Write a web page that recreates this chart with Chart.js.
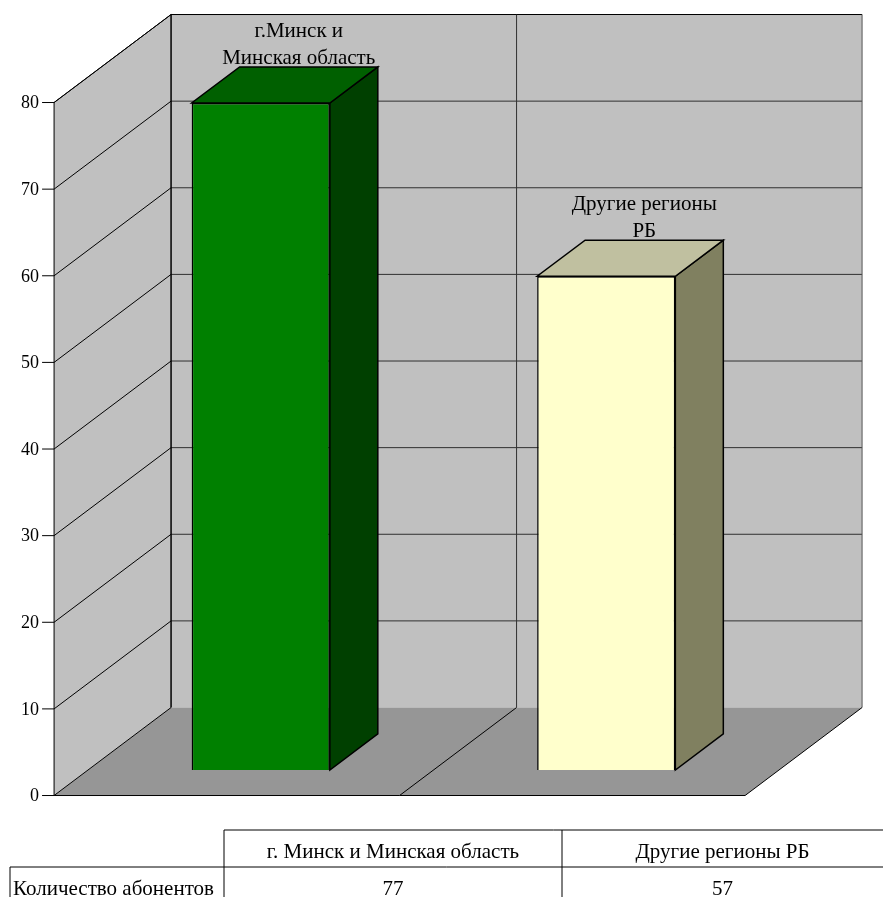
<!DOCTYPE html>
<html>
<head>
<meta charset="utf-8">
<script src="https://cdn.jsdelivr.net/npm/chart.js@4"></script>
<style>
  html, body { margin: 0; padding: 0; background: #fff; }
  #wrap { width: 883px; height: 897px; }
</style>
</head>
<body>
<div id="wrap"><canvas id="chart" width="883" height="897"></canvas></div>
<script>
// chart data
const categories = ['г.Минск и Минская область', 'Другие регионы РБ'];
const barLabels = [['г.Минск и', 'Минская область'], ['Другие регионы', 'РБ']];
const tableHeaders = ['г. Минск и Минская область', 'Другие регионы РБ'];
const seriesName = 'Количество абонентов';
const subscribers = [77, 57];
const yTicks = [0, 10, 20, 30, 40, 50, 60, 70, 80];

const frontColors = ['#008000', '#FFFFCC'];
const sideColors = ['#004000', '#808060'];
const topColors = ['#006000', '#C0C0A0'];

// 3d look: full depth vector, plane of bars, bar depth
const DEPTH_X = 117, DEPTH_Y = 88;
const BAR_PLANE = 0.29;
const BAR_DEPTH = 0.41;
const FONT = '"Liberation Serif", "Times New Roman", serif';

function off(f) { return [f * DEPTH_X, -f * DEPTH_Y]; }

function poly(ctx, pts, fill, stroke, lw) {
    ctx.beginPath();
    ctx.moveTo(pts[0][0], pts[0][1]);
    for (let i = 1; i < pts.length; i++) ctx.lineTo(pts[i][0], pts[i][1]);
    ctx.closePath();
    if (fill) { ctx.fillStyle = fill; ctx.fill(); }
    if (stroke) { ctx.strokeStyle = stroke; ctx.lineWidth = lw || 1; ctx.stroke(); }
}

function line(ctx, x1, y1, x2, y2, color, lw) {
    ctx.beginPath();
    ctx.moveTo(x1, y1);
    ctx.lineTo(x2, y2);
    ctx.strokeStyle = color;
    ctx.lineWidth = lw || 1;
    ctx.stroke();
}

const wallsPlugin = {
    id: 'walls',
    beforeDatasetsDraw(chart) {
        const ctx = chart.ctx;
        const a = chart.chartArea;
        const ys = chart.scales.y;
        const xs = chart.scales.x;
        const [fx, fy] = off(-BAR_PLANE);
        const [bx, by] = off(1 - BAR_PLANE);
        const top = ys.getPixelForValue(yTicks[yTicks.length - 1]);
        const bot = ys.getPixelForValue(0);
        const L = a.left, R = a.right;

        ctx.save();
        // back wall
        poly(ctx, [[L + bx, top + by], [R + bx, top + by], [R + bx, bot + by], [L + bx, bot + by]], '#C0C0C0');
        // left wall
        poly(ctx, [[L + fx, top + fy], [L + bx, top + by], [L + bx, bot + by], [L + fx, bot + fy]], '#C0C0C0');
        // gridlines
        yTicks.forEach(v => {
            if (v === 0) return;
            const y = ys.getPixelForValue(v);
            line(ctx, L + bx, y + by, R + bx, y + by, '#303030', 1);
            line(ctx, L + fx, y + fy, L + bx, y + by, '#000', 1);
        });
        // category divider on back wall
        const mid = (xs.getPixelForValue(0) + xs.getPixelForValue(1)) / 2;
        line(ctx, mid + bx, top + by, mid + bx, bot + by, '#303030', 1);
        // floor
        poly(ctx, [[L + fx, bot + fy], [R + fx, bot + fy], [R + bx, bot + by], [L + bx, bot + by]], '#969696');
        line(ctx, mid + fx, bot + fy, mid + bx, bot + by, '#000', 1);
        // edges
        line(ctx, L + fx, top + fy, L + bx, top + by, '#000', 1);
        line(ctx, L + bx, top + by, R + bx, top + by, '#000', 1);
        line(ctx, R + bx, top + by, R + bx, bot + by, '#555', 1);
        line(ctx, L + bx, top + by, L + bx, bot + by, '#000', 1.5);
        line(ctx, L + fx, bot + fy, L + bx, bot + by, '#000', 1);
        line(ctx, R + fx, bot + fy, R + bx, bot + by, '#000', 1);
        line(ctx, L + fx, bot + fy, R + fx, bot + fy, '#000', 1);
        // value axis
        line(ctx, L + fx, top + fy, L + fx, bot + fy, '#000', 1);
        ctx.font = '18px ' + FONT;
        ctx.fillStyle = '#000';
        ctx.textAlign = 'right';
        ctx.textBaseline = 'middle';
        yTicks.forEach(v => {
            const y = ys.getPixelForValue(v) + fy;
            line(ctx, L + fx - 12, y, L + fx, y, '#000', 1);
            ctx.fillText(String(v), L + fx - 15, y + 1);
        });

        // labels above bars (drawn before the bars so the top face covers them)
        const meta = chart.getDatasetMeta(0);
        ctx.font = '21px ' + FONT;
        ctx.textAlign = 'center';
        ctx.textBaseline = 'alphabetic';
        meta.data.forEach((bar, i) => {
            const lines = barLabels[i];
            const cx = bar.x + 38;
            let y = bar.y - 39;
            for (let k = lines.length - 1; k >= 0; k--) {
                ctx.fillText(lines[k], cx, y);
                y -= 27;
            }
        });
        ctx.restore();
    },
    afterDatasetsDraw(chart) {
        const ctx = chart.ctx;
        const [dx, dy] = off(BAR_DEPTH);
        const meta = chart.getDatasetMeta(0);
        ctx.save();
        ctx.lineJoin = 'miter';
        meta.data.forEach((bar, i) => {
            const l = bar.x - bar.width / 2, r = bar.x + bar.width / 2;
            const t = bar.y, b = bar.base;
            poly(ctx, [[r, t], [r + dx, t + dy], [r + dx, b + dy], [r, b]], sideColors[i], '#000', 1.5);
            poly(ctx, [[l, t], [r, t], [r + dx, t + dy], [l + dx, t + dy]], topColors[i], '#000', 1.5);
        });
        ctx.restore();
    },
    afterDraw(chart) {
        // data table under the chart
        const ctx = chart.ctx;
        ctx.save();
        const c0 = 10, c1 = 224, c2 = 562, c3 = 883;
        const r0 = 830, r1 = 867, r2 = 897;
        line(ctx, c1, r0, c3, r0, '#000', 1);
        line(ctx, c0, r1, c3, r1, '#000', 1);
        line(ctx, c1, r0, c1, r2, '#000', 1);
        line(ctx, c2, r0, c2, r2, '#000', 1);
        line(ctx, c0, r1, c0, r2, '#000', 1);
        ctx.font = '21px ' + FONT;
        ctx.fillStyle = '#000';
        ctx.textBaseline = 'alphabetic';
        ctx.textAlign = 'center';
        const cols = [[c1, c2], [c2, c3]];
        cols.forEach((cc, i) => {
            const cx = (cc[0] + cc[1]) / 2;
            ctx.fillText(tableHeaders[i], cx, 858);
            ctx.fillText(String(subscribers[i]), cx, 895);
        });
        ctx.textAlign = 'left';
        ctx.fillText(seriesName, 13, 895);
        ctx.restore();
    }
};

new Chart(document.getElementById('chart').getContext('2d'), {
    type: 'bar',
    data: {
        labels: categories,
        datasets: [{
            label: seriesName,
            data: subscribers,
            backgroundColor: frontColors,
            borderColor: '#000',
            borderWidth: 1.5,
            barPercentage: 0.4,
            categoryPercentage: 1
        }]
    },
    options: {
        responsive: false,
        animation: false,
        layout: { padding: { left: 88, right: 104, top: 77, bottom: 127 } },
        plugins: { legend: { display: false }, tooltip: { enabled: false } },
        scales: {
            x: { display: false },
            y: { display: false, min: 0, max: 80, ticks: { stepSize: 10 } }
        }
    },
    plugins: [wallsPlugin]
});
</script>
</body>
</html>
